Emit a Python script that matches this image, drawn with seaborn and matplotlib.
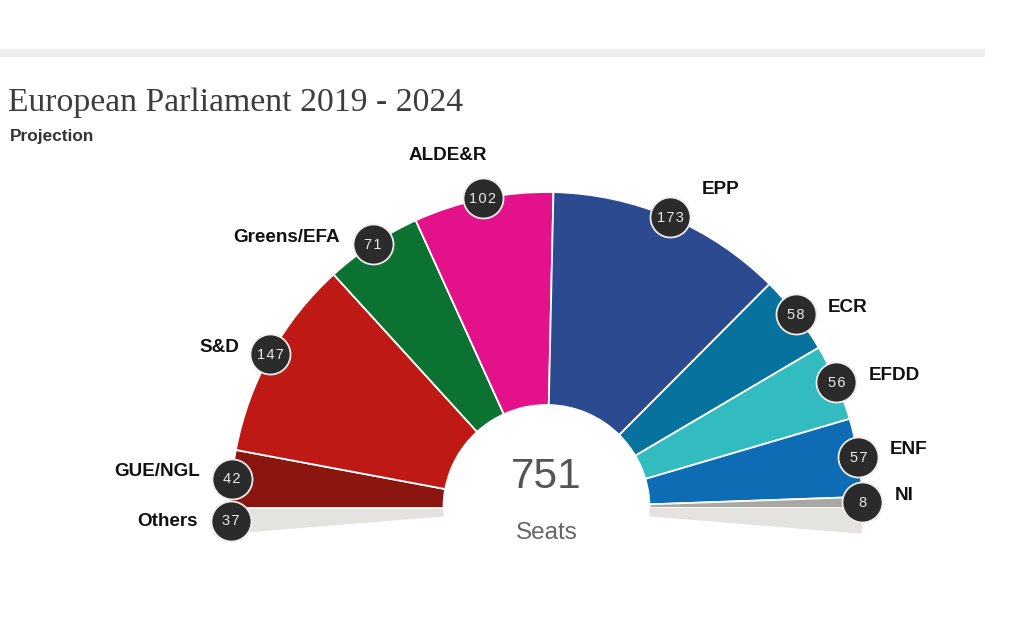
import numpy as np
import pandas as pd
import matplotlib
matplotlib.use("Agg")
import matplotlib.pyplot as plt
import seaborn as sns

# ---- data ----
parties = ["GUE/NGL", "S&D", "Greens/EFA", "ALDE&R", "EPP", "ECR", "EFDD", "ENF", "NI"]
seats = [42, 147, 71, 102, 173, 58, 56, 57, 8]
others_label = "Others"
others_seats = 37
total_label = "751"
colors = ["#8b150f", "#be1914", "#0c7232", "#e3118a", "#2b4a8f", "#08729f", "#33bcc0", "#0e6cb5", "#a9a7a3"]
others_color = "#e5e3df"

W, H = 1024, 620
CX, CY, R_OUT, R_IN = 546.5, 508, 316, 103

# party name centres in pixels from the top-left
label_xy = {
    "GUE/NGL": (157, 472), "S&D": (219, 347), "Greens/EFA": (287, 237),
    "ALDE&R": (448, 155), "EPP": (721, 190), "ECR": (848, 307),
    "EFDD": (894, 375), "ENF": (909, 450), "NI": (904, 495), "Others": (168, 521),
}

sns.set_theme(style="white")
plt.rcParams["font.family"] = ["Liberation Sans", "DejaVu Sans"]

fig = plt.figure(figsize=(W / 100, H / 100), dpi=100, facecolor="white")
ax = fig.add_axes([0, 0, 1, 1])


def fy(y):
    return H - y


palette = sns.color_palette([others_color] + colors + [others_color])
half = others_seats / 2
seated = sum(seats)
values = [half] + seats + [half, seated - others_seats]
startangle = 180 + half / (2 * seated) * 360
wedges, _ = ax.pie(
    values, colors=list(palette) + ["white"], startangle=startangle, counterclock=False,
    center=(CX, fy(CY)), radius=R_OUT,
    wedgeprops=dict(width=R_OUT - R_IN, edgecolor="white", linewidth=1.3),
)
wedges[-1].set_visible(False)
for idx in (0, len(seats) + 1):
    wedges[idx].set_edgecolor("none")
ax.set_xlim(0, W)
ax.set_ylim(0, H)
ax.set_aspect("equal")
ax.axis("off")

# top rule
ax.fill_between([0, 985], fy(49), fy(57), color="#eef0ef", lw=0)

# badges sit on the outer rim at each wedge's middle angle
names = [others_label] + parties
vals = [others_seats] + seats
mids = [np.deg2rad((w.theta1 + w.theta2) / 2) for w in wedges[: len(vals)]]
badges = pd.DataFrame({
    "x": [CX + R_OUT * np.cos(m) for m in mids],
    "y": [fy(CY) + R_OUT * np.sin(m) for m in mids],
    "name": names, "seats": vals,
})
sns.scatterplot(data=badges, x="x", y="y", s=830, color="#2b2b2b", edgecolor="#efedea",
                linewidth=1.3, ax=ax, legend=False, zorder=5, clip_on=False)
ax.set_xlim(0, W)
ax.set_ylim(0, H)
ax.axis("off")
for _, r in badges.iterrows():
    ax.text(r["x"], r["y"] - 0.5, "\u200a".join(str(r["seats"])), color="#e8e8e8", fontsize=10.5,
            ha="center", va="center", zorder=6)
    lx, ly = label_xy[r["name"]]
    ax.text(lx, fy(ly), r["name"], color="#111111", fontsize=13.6, fontweight="bold",
            ha="center", va="center", zorder=6)

# centre text
ax.text(546, fy(477), total_label, color="#555555", fontsize=30.5, ha="center", va="center")
ax.text(546.5, fy(533), "Seats", color="#666666", fontsize=17.5, ha="center", va="center")

# headings
ax.text(8, fy(103), "European Parliament 2019 - 2024", family="Liberation Serif", color="#3d3d3d",
        fontsize=24.3, ha="left", va="center")
ax.text(10, fy(137), "Projection", color="#333333", fontsize=12.4, fontweight="bold", ha="left", va="center")

fig.savefig("out.png", dpi=100, facecolor="white")
